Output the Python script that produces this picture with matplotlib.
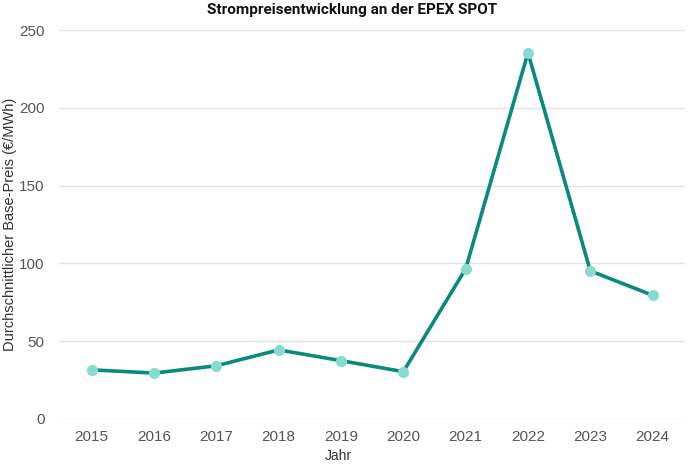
import matplotlib.pyplot as plt

years = [2015, 2016, 2017, 2018, 2019, 2020, 2021, 2022, 2023, 2024]
prices = [31.6, 29.5, 34.2, 44.4, 37.5, 30.4, 96.5, 235.4, 95.2, 79.5]

fig = plt.figure(figsize=(6.99, 4.66), dpi=100)
ax = fig.add_axes([0.084, 0.1009, 0.896, 0.8347])

ax.plot(years, prices, color='#0a8a7a', linewidth=2.6, marker='o',
        markersize=7, markerfacecolor='#86dccf', markeredgecolor='#86dccf',
        zorder=3, clip_on=False)

ax.set_xlim(2014.47, 2024.52)
ax.set_ylim(0, 250)
ax.set_xticks(years)
ax.set_yticks([0, 50, 100, 150, 200, 250])
ax.grid(axis='y', color='#e2e2e2', linewidth=1)
ax.set_axisbelow(True)
for s in ax.spines.values():
    s.set_visible(False)
ax.tick_params(length=0, labelsize=11, labelcolor='#555555', pad=8)
for lab in ax.get_xticklabels() + ax.get_yticklabels():
    lab.set_family('Liberation Sans')
ax.tick_params(axis='y', pad=10)

fig.text(0.503, 0.978, 'Strompreisentwicklung an der EPEX SPOT', family='Roboto',
         fontweight='bold', fontsize=11, color='#111111', ha='center', va='center')
ax.set_xlabel('Jahr', family='Liberation Sans', fontsize=10, color='#333333')
ax.set_ylabel('Durchschnittlicher Base-Preis (€/MWh)', family='Liberation Sans',
              fontsize=10.5, color='#333333')
ax.yaxis.set_label_coords(-0.066, 0.5)
ax.xaxis.set_label_coords(0.447, -0.077)

fig.savefig('out.png', dpi=100)
